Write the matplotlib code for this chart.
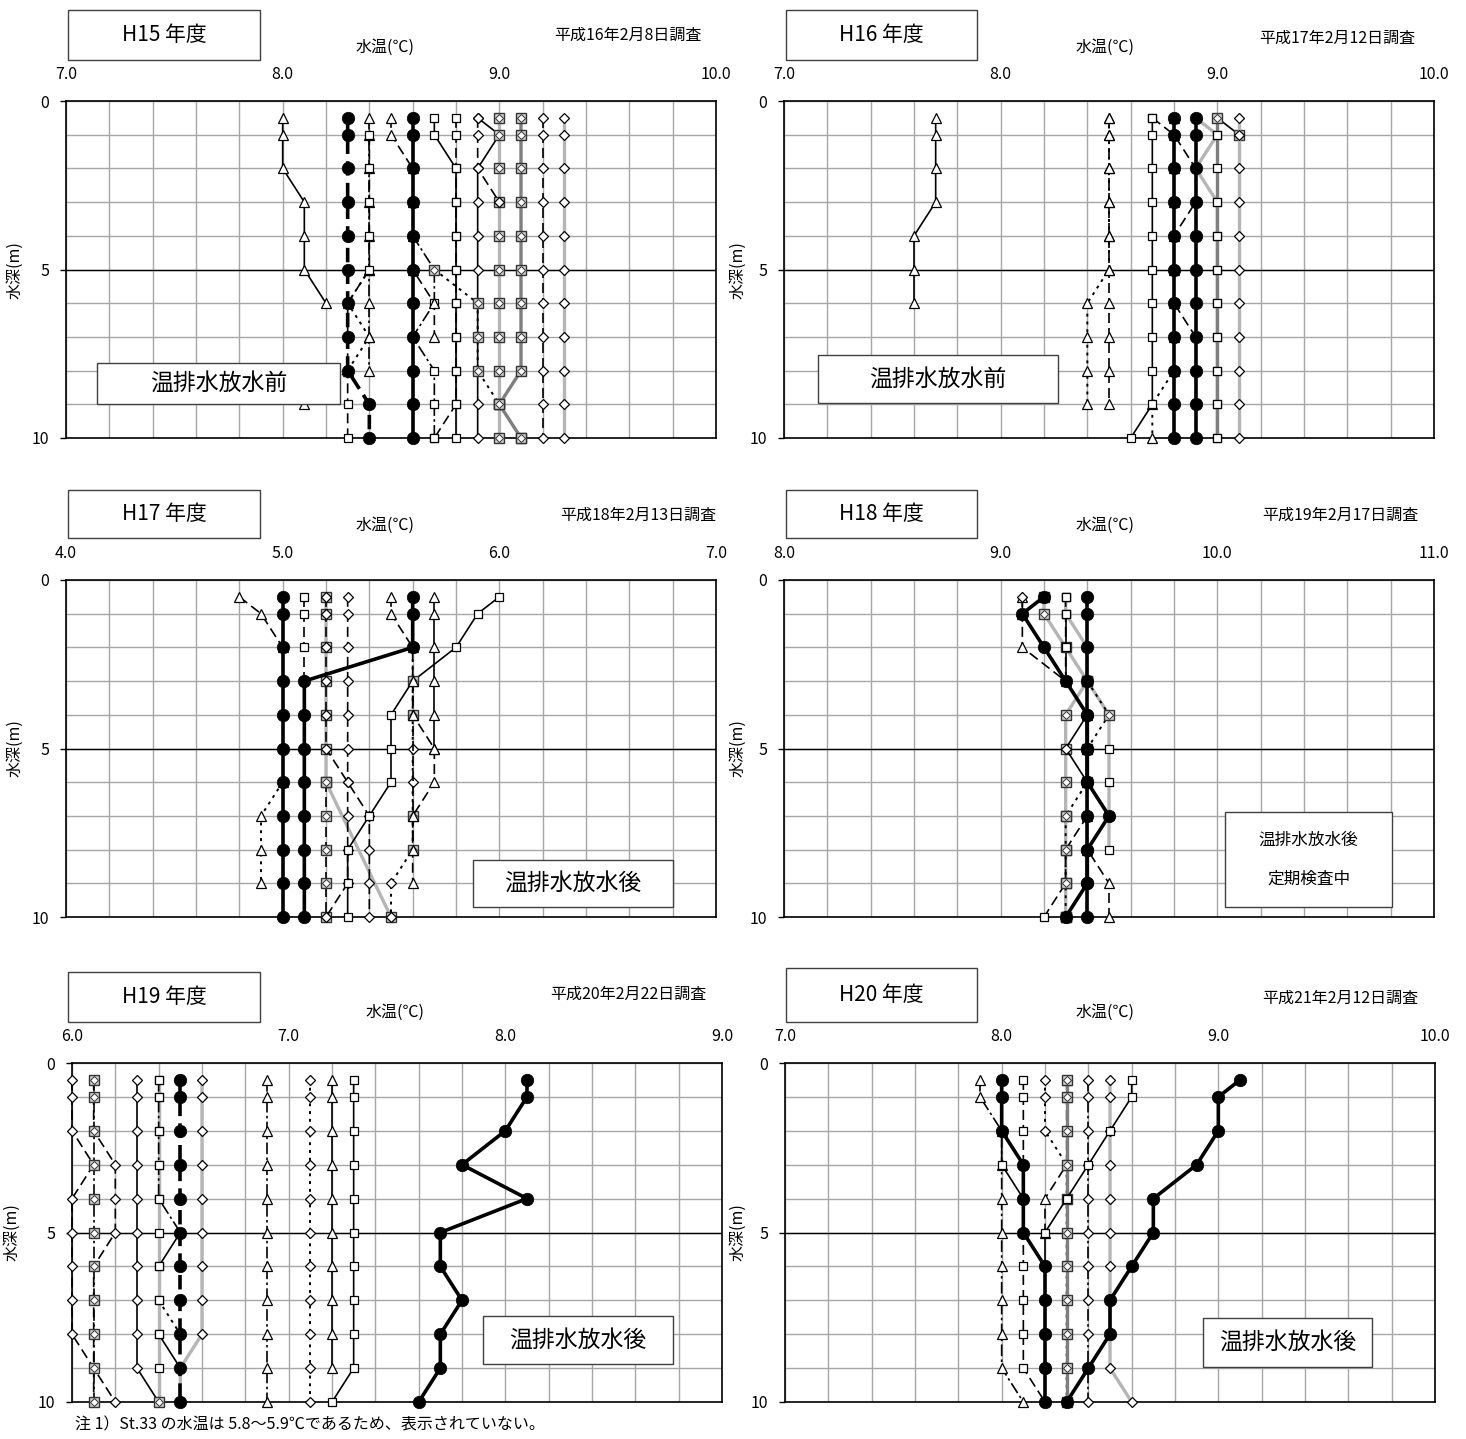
import matplotlib
matplotlib.use("Agg")
import matplotlib.pyplot as plt
from matplotlib.patches import Rectangle
from matplotlib.ticker import MultipleLocator

plt.rcParams['font.family'] = ['Noto Sans CJK JP', 'DejaVu Sans']

W, H = 1466, 1439

# depth levels of the survey (m)
D = [0.5, 1, 2, 3, 4, 5, 6, 7, 8, 9, 10]

# ---- H15 ----
h15_depth = [D[:7], D, D[:9], [5, 6, 7, 8, 9], D[1:], D, [4, 5, 6, 7, 8, 9, 10], D[:8],
             D, D, D, D, [5, 6, 7, 8, 9, 10], D[:4], D, D, D]
h15_temp = [[8.0, 8.0, 8.0, 8.1, 8.1, 8.1, 8.2],
            [8.3] * 9 + [8.4, 8.4],
            [8.4] * 9,
            [8.4, 8.3, 8.4, 8.3, 8.1],
            [8.4] * 5 + [8.3] * 5,
            [8.6] * 11,
            [8.6, 8.7, 8.7, 8.6, 8.7, 8.7, 8.7],
            [8.5, 8.5, 8.6, 8.6, 8.6, 8.6, 8.7, 8.7],
            [8.7, 8.7] + [8.8] * 9,
            [8.8] * 10 + [8.7],
            [8.9, 9.0] + [8.9] * 9,
            [9.0] * 11,
            [8.7, 8.9, 8.9, 8.9, 9.0, 9.1],
            [8.9, 8.9, 8.9, 9.0],
            [9.1] * 9 + [9.0, 9.1],
            [9.2] * 11,
            [9.3] * 11]
h15_style = ['tri-', 'circ--', 'tri-.', 'tri:', 'sq--', 'circ-', 'sq-.', 'tri--',
             'sq-', 'sq--', 'dia-', 'sqd_grey', 'sqd:', 'dia--', 'sqd_dgrey', 'dia--', 'dia_grey']

# ---- H16 ----
h16_depth = [D[:7], D[:10], D[:10], D, D, D, D, D, D, D, [0.5, 1], D]
h16_temp = [[7.7, 7.7, 7.7, 7.7, 7.6, 7.6, 7.6],
            [8.5] * 6 + [8.4] * 4,
            [8.5] * 10,
            [8.8] * 9 + [8.7, 8.7],
            [8.7] * 10 + [8.6],
            [8.7, 8.8, 8.9, 8.9, 8.8, 8.8, 8.8, 8.9, 8.9, 8.9, 8.9],
            [8.8] * 11,
            [8.9] * 11,
            [8.9, 9.0, 8.9] + [9.0] * 8,
            [9.0] * 11,
            [9.0, 9.1],
            [9.1] * 11]
h16_style = ['tri-', 'tri:', 'tri--', 'tri:', 'sq-', 'sq--', 'circ-', 'circ-',
             'sq_grey', 'sq_dgrey', 'sqd-', 'dia_grey']

# ---- H17 ----
h17_depth = [D[:3], [6, 7, 8, 9], D, D[:4], D, [0.5, 1, 2, 3, 4, 5, 6, 10], D,
             [6, 7, 8, 9, 10], D, D, D, [3, 4, 7, 8], D[:10], D[:6]]
h17_temp = [[4.8, 4.9, 5.0],
            [5.0, 4.9, 4.9, 4.9],
            [5.0] * 11,
            [5.1] * 4,
            [5.6, 5.6, 5.6] + [5.1] * 8,
            [5.2] * 7 + [5.5],
            [5.2] * 6 + [5.3, 5.4, 5.4, 5.4, 5.4],
            [5.2] * 5,
            [5.3] * 10 + [5.2],
            [6.0, 5.9, 5.8, 5.6, 5.5, 5.5, 5.5, 5.4, 5.3, 5.3, 5.3],
            [5.6] * 9 + [5.5, 5.5],
            [5.6] * 4,
            [5.5, 5.5, 5.6, 5.6, 5.6, 5.7, 5.7, 5.6, 5.6, 5.6],
            [5.7] * 6]
h17_style = ['tri--', 'tri:', 'circ-', 'sq--', 'circ-', 'sqd_grey', 'dia--', 'sqd--',
             'dia--', 'sq-', 'dia:', 'sqd--', 'tri--', 'tri-']

# ---- H18 ----
h18_depth = [D[:4], D[:9], D, D, D[3:], D, D, D, D]
h18_temp = [[9.3] * 4,
            [9.3, 9.3, 9.4, 9.4, 9.5, 9.5, 9.5, 9.5, 9.5],
            [9.2, 9.2, 9.3, 9.4] + [9.3] * 7,
            [9.3] * 4 + [9.4] * 4 + [9.3, 9.3, 9.2],
            [9.4, 9.5, 9.4, 9.4, 9.3, 9.3, 9.3, 9.3],
            [9.1, 9.1, 9.1, 9.3, 9.4, 9.4, 9.4, 9.4, 9.4, 9.5, 9.5],
            [9.1, 9.1, 9.2, 9.3, 9.4, 9.3, 9.4, 9.4, 9.4, 9.4, 9.4],
            [9.4] * 11,
            [9.2, 9.1, 9.2, 9.3, 9.4, 9.4, 9.4, 9.5, 9.4, 9.4, 9.3]]
h18_style = ['sq-', 'sq_grey', 'sqd_grey', 'sq--', 'sqd:', 'tri--', 'dia-', 'circ-', 'circ-']

# ---- H19 ----
h19_depth = [D, D, D, D, D, D[:6], [5, 6], [7, 8], [8, 9], D, D, [10], D, D, D[:10], D, D]
h19_temp = [[6.0, 6.0, 6.0, 6.1, 6.0, 6.0, 6.0, 6.0, 6.0, 6.1, 6.2],
            [6.1, 6.1, 6.1, 6.2, 6.2, 6.2, 6.1, 6.1, 6.1, 6.1, 6.1],
            [6.1] * 11,
            [6.3] * 10 + [6.4],
            [6.4] * 11,
            [6.4] * 5 + [6.5],
            [6.5, 6.4],
            [6.4, 6.5],
            [6.4, 6.5],
            [6.6] * 9 + [6.5, 6.5],
            [6.5] * 11,
            [6.4],
            [6.9] * 11,
            [7.1] * 11,
            [7.2] * 10,
            [7.3] * 10 + [7.2],
            [8.1, 8.1, 8.0, 7.8, 8.1, 7.7, 7.7, 7.8, 7.7, 7.7, 7.6]]
h19_style = ['dia--', 'dia--', 'sqd-.', 'dia-', 'sq_grey', 'sq-.', 'sq-', 'sq:', 'sq-',
             'dia_grey', 'circ--', 'sqd-', 'tri-.', 'dia:', 'tri-', 'sq-', 'circ-']

# ---- H20 ----
h20_depth = [D, D[:5], D, D, D[:6], D, D, D, D, D, D]
h20_temp = [[7.9, 7.9] + [8.0] * 8 + [8.1],
            [8.0, 8.0, 8.0, 8.0, 8.1],
            [8.1] * 10 + [8.2],
            [8.2, 8.2, 8.2] + [8.3] * 8,
            [8.3, 8.3, 8.3, 8.3, 8.2, 8.2],
            [8.3] * 11,
            [8.4] * 11,
            [8.5] * 10 + [8.6],
            [8.6, 8.6, 8.5, 8.4, 8.3, 8.2, 8.2, 8.2, 8.2, 8.2, 8.2],
            [8.0, 8.0, 8.0, 8.1, 8.1, 8.1, 8.2, 8.2, 8.2, 8.2, 8.2],
            [9.1, 9.0, 9.0, 8.9, 8.7, 8.7, 8.6, 8.5, 8.5, 8.4, 8.3]]
h20_style = ['tri-.', 'sq-', 'sq--', 'dia:', 'tri--', 'sqd_dgrey', 'dia-.', 'dia_grey',
             'sq-', 'circ-', 'circ-']

titles = ['H15 年度', 'H16 年度', 'H17 年度', 'H18 年度', 'H19 年度', 'H20 年度']
dates = ['平成16年2月8日調査', '平成17年2月12日調査', '平成18年2月13日調査',
         '平成19年2月17日調査', '平成20年2月22日調査', '平成21年2月12日調査']
xranges = [(7.0, 10.0), (7.0, 10.0), (4.0, 7.0), (8.0, 11.0), (6.0, 9.0), (7.0, 10.0)]
notes = ['温排水放水前', '温排水放水前', '温排水放水後', '温排水放水後\n\n定期検査中',
         '温排水放水後', '温排水放水後']
footnote = '注 1）St.33 の水温は 5.8～5.9℃であるため、表示されていない。'

# axes rectangles in pixels: left, top, right, bottom
axes_px = [(66, 101, 716, 438), (784, 101, 1434, 438),
           (66, 580, 716, 917), (784, 580, 1434, 917),
           (72, 1063, 722, 1402), (785, 1063, 1435, 1402)]
title_box = [(68, 10, 260, 60), (786, 10, 977, 60), (68, 490, 260, 538),
             (786, 490, 977, 538), (68, 972, 260, 1022), (786, 968, 977, 1022)]
note_box = [(97, 363, 340, 404), (818, 355, 1058, 403), (473, 860, 673, 907),
            (1225, 812, 1392, 907), (483, 1316, 673, 1364), (1203, 1318, 1372, 1367)]
xlabel_pos = [(385, 47), (1105, 47), (385, 525), (1105, 525), (395, 1012), (1105, 1012)]
date_pos = [(628, 35), (1337, 38), (638, 515), (1340, 515), (628, 994), (1340, 998)]
ylabel_pos = [(15, 270), (738, 270), (15, 748), (738, 748), (12, 1232), (738, 1232)]

STYLES = {
    'tri-': ('^', '-', 'black', 1.2), 'tri--': ('^', (0, (6, 3)), 'black', 1.2),
    'tri-.': ('^', (0, (7, 2, 1.5, 2)), 'black', 1.2), 'tri:': ('^', (0, (1.5, 2.5)), 'black', 1.4),
    'sq-': ('s', '-', 'black', 1.2), 'sq--': ('s', (0, (6, 3)), 'black', 1.2),
    'sq-.': ('s', (0, (7, 2, 1.5, 2)), 'black', 1.2), 'sq:': ('s', (0, (1.5, 2.5)), 'black', 1.4),
    'dia-': ('D', '-', 'black', 1.2), 'dia--': ('D', (0, (6, 3)), 'black', 1.2),
    'dia-.': ('D', (0, (7, 2, 1.5, 2)), 'black', 1.2), 'dia:': ('D', (0, (1.5, 2.5)), 'black', 1.4),
    'sqd-': ('sqd', '-', 'black', 1.2), 'sqd--': ('sqd', (0, (6, 3)), 'black', 1.2),
    'sqd-.': ('sqd', (0, (7, 2, 1.5, 2)), 'black', 1.2), 'sqd:': ('sqd', (0, (1.5, 2.5)), 'black', 1.4),
    'circ-': ('o', '-', 'black', 2.6), 'circ--': ('o', (0, (4, 2)), 'black', 2.6),
    'sq_grey': ('s', '-', '#b5b5b5', 2.4), 'sq_dgrey': ('s', '-', '#7f7f7f', 2.4),
    'sqd_grey': ('sqd', '-', '#b5b5b5', 2.4), 'sqd_dgrey': ('sqd', '-', '#7f7f7f', 2.4),
    'dia_grey': ('D', '-', '#b5b5b5', 2.4),
}
MARKER_KW = {
    '^': dict(marker='^', ms=7, mfc='white', mec='black', mew=0.9),
    's': dict(marker='s', ms=6.3, mfc='white', mec='black', mew=0.9),
    'D': dict(marker='D', ms=5, mfc='white', mec='black', mew=0.9),
    'o': dict(marker='o', ms=9, mfc='black', mec='black', mew=0.5),
}


def draw_series(ax, depths, temps, code):
    mk, ls, col, lw = STYLES[code]
    if mk == 'sqd':
        ax.plot(temps, depths, linestyle=ls, color=col, lw=lw, marker='s', ms=6.8,
                mfc='#d0d0d0', mec='#333333', mew=1.0, clip_on=False, zorder=3)
        ax.plot(temps, depths, linestyle='none', marker='D', ms=4.2, mfc='white',
                mec='#333333', mew=0.7, clip_on=False, zorder=3)
    else:
        # filled circle stations sit on top of the others
        z = 4 if mk == 'o' else 3
        ax.plot(temps, depths, linestyle=ls, color=col, lw=lw, clip_on=False, zorder=z,
                **MARKER_KW[mk])


def fig_xy(x, y):
    return x / W, 1 - y / H


fig = plt.figure(figsize=(W / 100, H / 100), dpi=100)

panels = [(h15_depth, h15_temp, h15_style), (h16_depth, h16_temp, h16_style),
          (h17_depth, h17_temp, h17_style), (h18_depth, h18_temp, h18_style),
          (h19_depth, h19_temp, h19_style), (h20_depth, h20_temp, h20_style)]

for i, (depths, temps, styles) in enumerate(panels):
    l, t, r, b = axes_px[i]
    ax = fig.add_axes([l / W, 1 - b / H, (r - l) / W, (b - t) / H])
    x0, x1 = xranges[i]
    ax.set_xlim(x0, x1)
    ax.set_ylim(10, 0)
    ax.xaxis.tick_top()
    ax.xaxis.set_major_locator(MultipleLocator(1.0))
    ax.xaxis.set_minor_locator(MultipleLocator(0.2))
    ax.yaxis.set_major_locator(MultipleLocator(5))
    ax.yaxis.set_minor_locator(MultipleLocator(1))
    ax.set_xticklabels([f'{v:.1f}' for v in ax.get_xticks()])
    ax.tick_params(axis='x', which='both', length=0, pad=13, labelsize=11.5)
    ax.tick_params(axis='y', which='major', length=4, width=1, pad=8, labelsize=11.5)
    ax.tick_params(axis='y', which='minor', length=0)
    ax.grid(which='both', color='#a6a6a6', lw=1.0)
    ax.axhline(5, color='black', lw=1.0, zorder=1)
    for sp in ax.spines.values():
        sp.set_color('black')
        sp.set_linewidth(1.2)
    ax.set_axisbelow(True)
    for dp, tp, st in zip(depths, temps, styles):
        draw_series(ax, dp, tp, st)

    # title box
    bx0, by0, bx1, by1 = title_box[i]
    fx, fy = fig_xy(bx0, by1)
    fig.add_artist(Rectangle((fx, fy), (bx1 - bx0) / W, (by1 - by0) / H,
                             transform=fig.transFigure, facecolor='white',
                             edgecolor='#404040', lw=1.0))
    fig.text(*fig_xy((bx0 + bx1) / 2, (by0 + by1) / 2), titles[i], fontsize=15,
             ha='center', va='center')
    # labels
    fig.text(*fig_xy(*xlabel_pos[i]), '水温(℃)', fontsize=11.5, ha='center', va='center')
    fig.text(*fig_xy(*date_pos[i]), dates[i], fontsize=11.5, ha='center', va='center')
    fig.text(*fig_xy(*ylabel_pos[i]), '水深(m)', fontsize=11.5, ha='center', va='center',
             rotation=90)
    # condition box
    nx0, ny0, nx1, ny1 = note_box[i]
    fx, fy = fig_xy(nx0, ny1)
    fig.add_artist(Rectangle((fx, fy), (nx1 - nx0) / W, (ny1 - ny0) / H,
                             transform=fig.transFigure, facecolor='white',
                             edgecolor='#404040', lw=1.0, zorder=5))
    fig.text(*fig_xy((nx0 + nx1) / 2, (ny0 + ny1) / 2), notes[i],
             fontsize=12 if i == 3 else 16.5, ha='center', va='center', zorder=6,
             linespacing=1.2)

fig.text(*fig_xy(75, 1425), footnote, fontsize=11.5, ha='left', va='center')

fig.savefig('out.png', dpi=100)
